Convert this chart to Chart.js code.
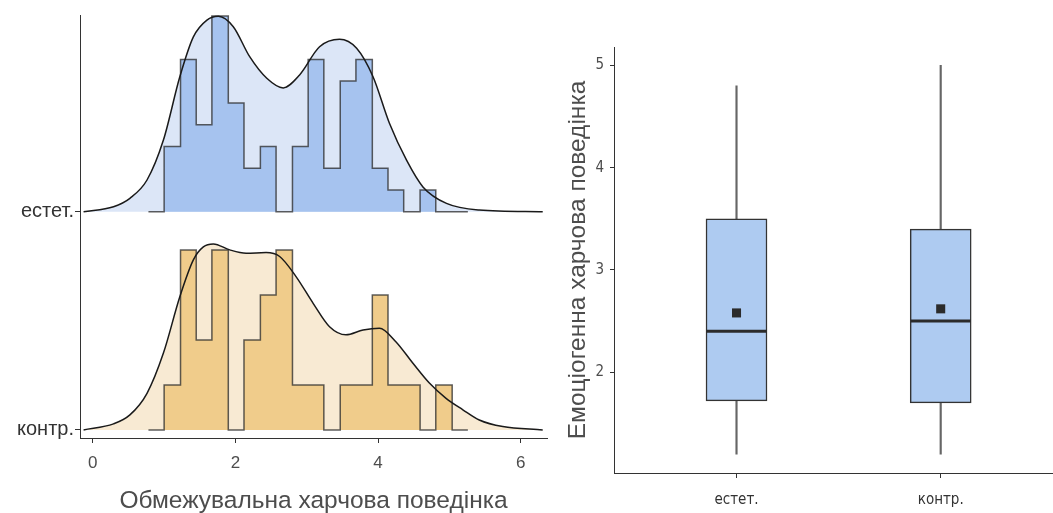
<!DOCTYPE html>
<html>
<head>
<meta charset="utf-8">
<script src="https://cdn.jsdelivr.net/npm/chart.js@4.4.1/dist/chart.umd.min.js"></script>
<style>
  body { margin: 0; background: #fff; width: 1053px; height: 513px; overflow: hidden; position: relative; }
  #ridges { position: absolute; left: 0; top: 0; }
  #boxes { position: absolute; left: 560px; top: 0; }
</style>
</head>
<body>
<canvas id="ridges" width="560" height="513"></canvas>
<canvas id="boxes" width="493" height="513"></canvas>
<script>
// left panel: ridges (density + histogram) for the two groups
const ridgeLabels = ['контр.', 'естет.'];
const ridgeBase = [0, 0.727];
const xTicks = [0, 2, 4, 6];

const binEdges = [0.78, 1.0, 1.23, 1.45, 1.67, 1.9, 2.12, 2.35, 2.57, 2.8, 3.02,
  3.24, 3.47, 3.69, 3.92, 4.14, 4.36, 4.59, 4.81, 5.04, 5.26];
const estetHist = [0, 0.218, 0.508, 0.29, 0.653, 0.363, 0.145, 0.218, 0, 0.218,
  0.508, 0.145, 0.436, 0.508, 0.145, 0.073, 0, 0.073, 0, 0];
const kontrHist = [0, 0.15, 0.6, 0.3, 0.6, 0, 0.3, 0.45, 0.6, 0.15,
  0.15, 0, 0.15, 0.15, 0.45, 0.15, 0.15, 0, 0.15, 0];

const estetDensX = [-0.13, 0.29, 0.52, 0.76, 0.99, 1.22, 1.41, 1.6, 1.76, 1.97, 2.2, 2.44,
  2.67, 2.9, 3.18, 3.46, 3.7, 3.93, 4.16, 4.4, 4.63, 4.96, 5.42, 6.31];
const estetDensY = [0, 0.017, 0.045, 0.106, 0.239, 0.45, 0.583, 0.639, 0.652, 0.617, 0.517, 0.445,
  0.413, 0.456, 0.55, 0.575, 0.545, 0.45, 0.295, 0.172, 0.083, 0.028, 0.006, 0];
const kontrDensX = [-0.13, 0.29, 0.52, 0.76, 0.99, 1.22, 1.41, 1.55, 1.69, 1.92, 2.15, 2.43, 2.62,
  2.85, 3.09, 3.32, 3.55, 3.79, 4.02, 4.25, 4.49, 4.72, 4.95, 5.19, 5.42, 5.75, 6.31];
const kontrDensY = [0, 0.02, 0.05, 0.122, 0.256, 0.444, 0.567, 0.61, 0.62, 0.6, 0.589, 0.591, 0.578,
  0.511, 0.422, 0.344, 0.317, 0.333, 0.339, 0.294, 0.222, 0.156, 0.106, 0.067, 0.033, 0.011, 0];

// right panel: boxplot
const boxGroups = ['естет.', 'контр.'];
const whiskerLow = [1.2, 1.2];
const q1 = [1.72, 1.7];
const median = [2.4, 2.5];
const q3 = [3.5, 3.4];
const whiskerHigh = [4.8, 5.0];
const means = [2.58, 2.62];
const boxTicks = [2, 3, 4, 5];

const plainFont = "'Liberation Sans', Arial, sans-serif";
const narrowFont = "'Liberation Sans Narrow', 'DejaVu Sans Condensed', sans-serif";

function densityPoints(xs, ys, base) {
  return xs.map((x, i) => ({ x: x, y: base + ys[i] }));
}

function stepPoints(hist, base) {
  return binEdges.map((e, i) => ({ x: e, y: base + hist[Math.min(i, hist.length - 1)] }));
}

function ridgeSets(densX, densY, hist, base, densFill, histFill) {
  return [
    {
      data: densityPoints(densX, densY, base),
      borderWidth: 0,
      backgroundColor: densFill,
      fill: { value: base },
      cubicInterpolationMode: 'monotone',
      order: 3,
    },
    {
      data: stepPoints(hist, base),
      stepped: 'before',
      borderColor: 'rgba(40,40,40,0.75)',
      borderWidth: 1.5,
      backgroundColor: histFill,
      fill: { value: base },
      order: 2,
    },
    {
      data: densityPoints(densX, densY, base),
      borderColor: '#1a1a1a',
      borderWidth: 1.5,
      fill: false,
      cubicInterpolationMode: 'monotone',
      order: 1,
    },
  ];
}

new Chart(document.getElementById('ridges'), {
  type: 'line',
  data: {
    datasets: [
      ...ridgeSets(estetDensX, estetDensY, estetHist, ridgeBase[1], '#dce6f7', '#a6c3ef'),
      ...ridgeSets(kontrDensX, kontrDensY, kontrHist, ridgeBase[0], '#f8ead3', '#f0cc8b'),
    ],
  },
  options: {
    responsive: false,
    animation: false,
    devicePixelRatio: 1,
    layout: { autoPadding: false, padding: { top: 15, right: 13, left: 0, bottom: 0 } },
    elements: { point: { radius: 0 } },
    plugins: { legend: { display: false }, tooltip: { enabled: false } },
    scales: {
      x: {
        type: 'linear',
        min: -0.18,
        max: 6.37,
        afterBuildTicks: s => { s.ticks = xTicks.map(v => ({ value: v })); },
        afterFit: s => { s.height = 75; },
        grid: { drawOnChartArea: false, drawTicks: true, tickLength: 5, color: '#333' },
        border: { color: '#333', width: 1 },
        ticks: { padding: 10, color: '#4d4d4d', font: { family: plainFont, size: 17 } },
        title: {
          display: true,
          text: 'Обмежувальна харчова поведінка',
          color: '#4d4d4d',
          font: { family: plainFont, size: 24.5, lineHeight: 1 },
          padding: { top: 0, bottom: 0 },
        },
      },
      y: {
        type: 'linear',
        min: -0.027,
        max: 1.383,
        afterBuildTicks: s => { s.ticks = ridgeBase.map(v => ({ value: v })); },
        afterFit: s => { s.width = 80; },
        grid: { drawOnChartArea: false, drawTicks: true, tickLength: 5, color: '#333' },
        border: { color: '#333', width: 1 },
        ticks: {
          padding: 1,
          color: '#333',
          font: { family: plainFont, size: 20 },
          callback: v => ridgeLabels[ridgeBase.indexOf(v)],
        },
      },
    },
  },
});

new Chart(document.getElementById('boxes'), {
  type: 'bar',
  data: {
    datasets: [
      {
        data: boxGroups.map((g, i) => ({ x: i + 1, y: [whiskerLow[i], whiskerHigh[i]] })),
        backgroundColor: '#666',
        borderWidth: 0,
        barThickness: 1.5,
        grouped: false,
        order: 4,
      },
      {
        data: boxGroups.map((g, i) => ({ x: i + 1, y: [q1[i], q3[i]] })),
        backgroundColor: '#aecbf1',
        borderColor: '#333',
        borderWidth: 1.5,
        borderSkipped: false,
        barThickness: 61,
        grouped: false,
        order: 3,
      },
      {
        type: 'line',
        data: boxGroups.map((g, i) => ({ x: i + 1, y: median[i] })),
        showLine: false,
        pointStyle: 'line',
        pointRadius: 30,
        pointBorderWidth: 3,
        pointBorderColor: '#2b2b2b',
        order: 2,
      },
      {
        type: 'line',
        data: boxGroups.map((g, i) => ({ x: i + 1, y: means[i] })),
        showLine: false,
        pointStyle: 'rect',
        pointRadius: 6.4,
        pointBorderWidth: 0,
        pointBackgroundColor: '#2b2b2b',
        order: 1,
      },
    ],
  },
  options: {
    responsive: false,
    animation: false,
    devicePixelRatio: 1,
    layout: { autoPadding: false, padding: { top: 47, right: 0, left: 0, bottom: 0 } },
    plugins: { legend: { display: false }, tooltip: { enabled: false } },
    scales: {
      x: {
        type: 'linear',
        offset: false,
        min: 0.4,
        max: 2.55,
        afterBuildTicks: s => { s.ticks = boxGroups.map((g, i) => ({ value: i + 1 })); },
        afterFit: s => { s.height = 40; s.paddingLeft = 0; s.paddingRight = 0; },
        grid: { offset: false, drawOnChartArea: false, drawTicks: true, tickLength: 5, color: '#333' },
        border: { color: '#333', width: 1 },
        ticks: {
          padding: 13,
          color: '#333',
          font: { family: narrowFont, size: 15 },
          callback: v => boxGroups[v - 1],
        },
      },
      y: {
        type: 'linear',
        min: 1.015,
        max: 5.18,
        afterBuildTicks: s => { s.ticks = boxTicks.map(v => ({ value: v })); },
        afterFit: s => { s.width = 54; },
        grid: { drawOnChartArea: false, drawTicks: true, tickLength: 4, color: '#333' },
        border: { color: '#333', width: 1 },
        ticks: { padding: 6, color: '#4d4d4d', font: { family: narrowFont, size: 15 } },
        title: {
          display: true,
          text: 'Емоціогенна харчова поведінка',
          color: '#4d4d4d',
          font: { family: plainFont, size: 24.5, lineHeight: 1 },
          padding: { top: 6, bottom: 0 },
        },
      },
    },
  },
});
</script>
</body>
</html>
